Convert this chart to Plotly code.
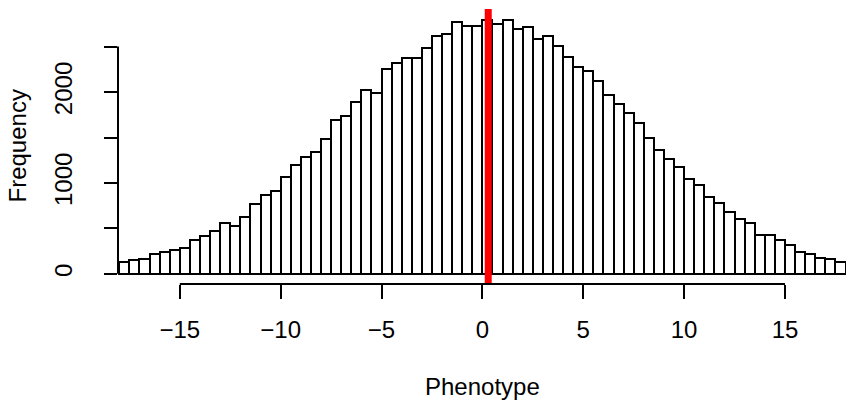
import plotly.graph_objects as go

# Histogram data (bins of width 0.5 from -18 to 18)
bin_start = -18.0
bin_width = 0.5
counts = [128, 147, 158, 213, 243, 257, 287, 367, 415, 466,
          555, 522, 624, 764, 863, 915, 1065, 1197, 1286, 1341,
          1488, 1690, 1734, 1892, 2021, 1985, 2249, 2322, 2377, 2370,
          2481, 2616, 2638, 2774, 2730, 2730, 2793, 2745, 2793, 2690,
          2719, 2580, 2616, 2506, 2388, 2278, 2234, 2120, 1966, 1867,
          1771, 1661, 1499, 1367, 1268, 1176, 1040, 974, 845, 779,
          684, 599, 562, 422, 422, 375, 312, 238, 220, 172,
          161, 125]
bin_centers = [bin_start + bin_width * (i + 0.5) for i in range(len(counts))]

x_ticks = [-15, -10, -5, 0, 5, 10, 15]
y_ticks = [0, 500, 1000, 1500, 2000, 2500]
y_tick_labels = ["0", "", "1000", "", "2000", ""]
mean_value = 0.29

FONT = "Liberation Sans, Arial, Helvetica, sans-serif"

fig = go.Figure()
fig.add_trace(go.Bar(
    x=bin_centers, y=counts, width=bin_width,
    marker=dict(color="white", line=dict(color="black", width=2)),
    showlegend=False, hoverinfo="x+y",
))

# Red vertical line
fig.add_shape(type="line", xref="x", yref="paper",
              x0=mean_value, x1=mean_value, y0=0, y1=1,
              line=dict(color="#FF0000", width=7), layer="above")
# R-style detached axis lines
fig.add_shape(type="line", xref="x", yref="paper",
              x0=x_ticks[0], x1=x_ticks[-1], y0=0, y1=0,
              line=dict(color="black", width=2))
fig.add_shape(type="line", xref="paper", yref="y",
              x0=0, x1=0, y0=y_ticks[0], y1=y_ticks[-1],
              line=dict(color="black", width=2))

fig.add_annotation(text="Phenotype", xref="paper", yref="paper",
                   x=0.5, y=0, xanchor="center", yanchor="middle",
                   yshift=-102, showarrow=False,
                   font=dict(family=FONT, size=24, color="black"))
fig.add_annotation(text="Frequency", xref="paper", yref="paper",
                   x=0, y=0.5, xanchor="center", yanchor="middle",
                   xshift=-101, textangle=-90, showarrow=False,
                   font=dict(family=FONT, size=24, color="black"))

fig.update_layout(
    width=846, height=404,
    margin=dict(l=118, r=0, t=9, b=120, pad=0, autoexpand=False),
    plot_bgcolor="white", paper_bgcolor="white",
    bargap=0,
    font=dict(family=FONT, size=24, color="black"),
    xaxis=dict(range=[-18.064, 18.025], showgrid=False, zeroline=False,
               showline=False, tickmode="array", tickvals=x_ticks,
               ticks="outside", ticklen=14, tickwidth=2, tickcolor="black",
               ticklabelstandoff=10, automargin=False),
    yaxis=dict(range=[-112, 2914], showgrid=False, zeroline=False,
               showline=False, tickmode="array", tickvals=y_ticks,
               ticktext=y_tick_labels, tickangle=-90,
               ticks="outside", ticklen=13, tickwidth=2, tickcolor="black",
               ticklabelstandoff=22, automargin=False),
)

fig.write_html("out.html",
               config={"displayModeBar": False},
               post_script="document.body.style.margin='0';document.body.style.padding='0';")
